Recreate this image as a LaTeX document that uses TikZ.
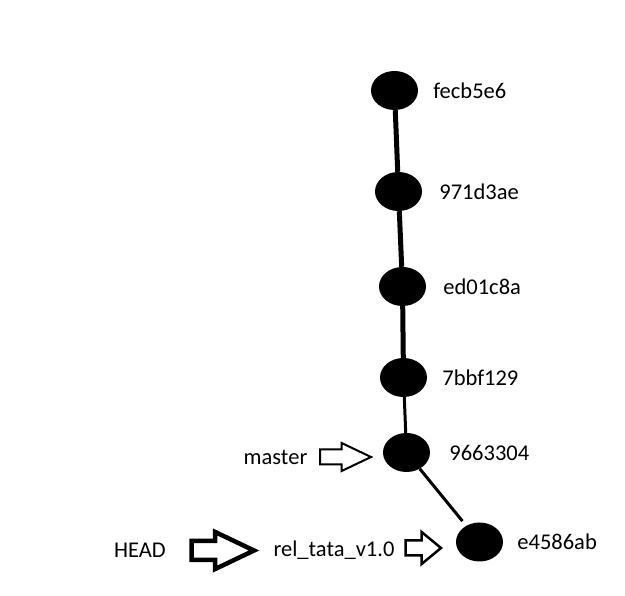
\documentclass[tikz,border=0pt]{standalone}
\usepackage{fontspec}
\setmainfont{Carlito}
\usetikzlibrary{shapes.geometric,shapes.arrows,positioning}

\tikzset{
  commit/.style={ellipse,fill=black,minimum width=47pt,minimum height=39pt,inner sep=0pt},
  hash/.style={inner sep=0pt,font=\fontsize{22.5}{27}\selectfont},
  ptr/.style={single arrow,draw=black,fill=white,inner xsep=0pt,anchor=tail,single arrow head indent=0pt},
}

\begin{document}
\begin{tikzpicture}[x=1pt,y=-1pt]
\useasboundingbox (0,0) rectangle (625,596);

% commits
\node[commit] (c1) at (394.5,90.5) {};
\node[commit] (c2) at (398.5,191.5) {};
\node[commit] (c3) at (402.5,286.5) {};
\node[commit] (c4) at (403.5,377.5) {};
\node[commit] (c5) at (406.5,452.5) {};
\node[commit] (c6) at (479.5,542) {};

\node[hash,right=15pt of c1] (h1) {fecb5e6};
\node[hash,right=17pt of c2] (h2) {971d3ae};
\node[hash,right=17pt of c3] (h3) {ed01c8a};
\node[hash,right=15pt of c4] (h4) {7bbf129};
\node[hash,right=19pt of c5] (h5) {9663304};
\node[hash,right=14pt of c6] (h6) {e4586ab};

% refs
\node[hash] (master) at (275.5,457) {master};
\node[hash] (rel) at (334,550) {rel\_tata\_v1.0};
\node[hash] (head) at (140,550) {HEAD};

\node[ptr,line width=2pt,minimum height=51pt,inner ysep=6.5pt,
  single arrow head extend=6.5pt,single arrow tip angle=51] (pm) at (319,457) {};
\node[ptr,line width=2.5pt,minimum height=35.5pt,inner ysep=6.25pt,
  single arrow head extend=8.5pt,single arrow tip angle=79] (pr) at (404.25,548) {};
\node[ptr,line width=4.5pt,minimum height=62.5pt,inner ysep=7.25pt,
  single arrow head extend=9pt,single arrow tip angle=51] (ph) at (189.25,550.5) {};

\path[draw,line width=5pt]
    (c1) -- (c2)
    (c2) -- (c3)
    (c3) -- (c4);
\path[draw,line width=3pt]
    (c4) -- (c5)
    (c5) edge [shorten >=6pt] (c6);
\end{tikzpicture}
\end{document}
